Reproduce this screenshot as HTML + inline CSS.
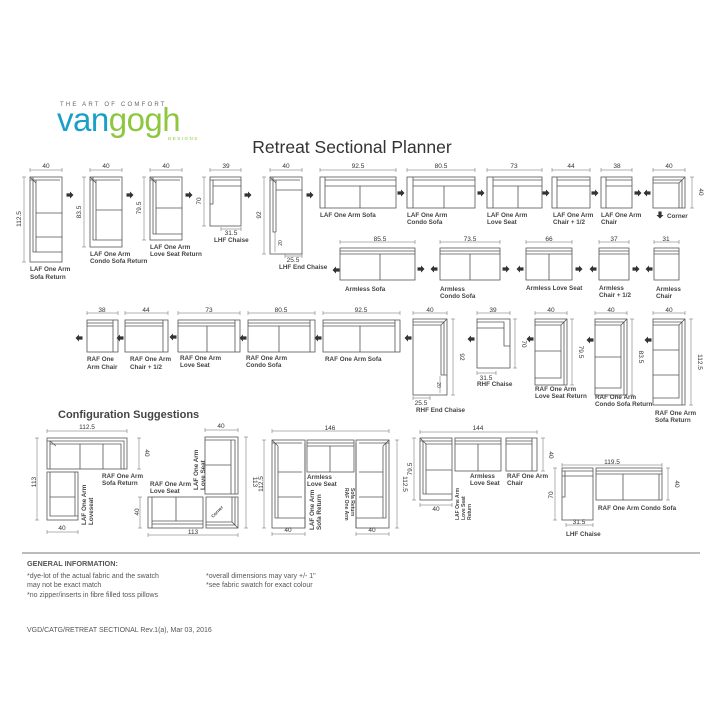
<!DOCTYPE html>
<html><head><meta charset="utf-8"><style>
html,body{margin:0;padding:0;background:#fff;width:720px;height:720px;overflow:hidden}
svg{display:block}
text{font-family:"Liberation Sans",sans-serif}
.l{font-size:6.3px;font-weight:bold;fill:#444}
.d{font-size:6.5px;fill:#333}
.p{fill:none;stroke:#555;stroke-width:.8}
.m{fill:none;stroke:#666;stroke-width:.5}
</style></head><body>
<svg width="720" height="720" viewBox="0 0 720 720" xmlns="http://www.w3.org/2000/svg">
<defs>
<path id="ar" d="M-3.5,-1.6 L0,-1.6 L0,-3.5 L3.5,0 L0,3.5 L0,1.6 L-3.5,1.6Z" fill="#333"/>
</defs>
<!-- logo -->
<text x="60" y="106" font-size="6" letter-spacing="2.2" fill="#666">THE ART OF COMFORT</text>
<text x="57" y="131" font-size="33" fill="#1aa0c8" letter-spacing="-0.5">van<tspan fill="#8dc63f">gogh</tspan></text>
<text x="168" y="140" font-size="4.5" letter-spacing="1.5" fill="#8dc63f">DESIGNS</text>
<text x="352" y="153" font-size="17.5" text-anchor="middle" fill="#333">Retreat Sectional Planner</text>

<!-- ROW 1 -->
<g class="p">
<rect x="30" y="177" width="32" height="85"/><path d="M33,177V252H62M30,180H60M36,180V252M36,213H62M36,237H62M30,177L36,183"/>
<rect x="90" y="177" width="32" height="70"/><path d="M93,177V240H122M90,180H120M96,180V240M96,210H122M90,177L96,183"/>
<rect x="150" y="177" width="32" height="63"/><path d="M153,177V234H182M150,180H180M156,180V234M156,208H182M150,177L156,183"/>
<rect x="210" y="177" width="31" height="49"/><path d="M210,180H241M213,180V204H210M213,186H241"/>
<rect x="270" y="177" width="32" height="77"/><path d="M273,177V232H276M270,180H300M276,180V232M276,190H302M270,177L276,183"/>
<rect x="320" y="177" width="76" height="31"/><path d="M325,177V208M325,180H396M325,186H396M360,186V208"/>
<rect x="407" y="177" width="68" height="31"/><path d="M413,177V208M413,180H475M413,186H475M444,186V208"/>
<rect x="487" y="177" width="55" height="31"/><path d="M493,177V208M493,180H542M493,186H542M518,186V208"/>
<rect x="552" y="177" width="38" height="31"/><path d="M557,177V208M557,180H590M557,186H590"/>
<rect x="601" y="177" width="31" height="31"/><path d="M606,177V208M606,180H632M606,186H632"/>
<rect x="653" y="177" width="32" height="31"/><path d="M653,180H682V208M653,183H679V208M679,183L685,177"/>
</g>
<g class="m">
<path d="M30,170H62M30,168V172M62,168V172"/><path d="M24,177V262M22,177H26M22,262H26"/>
<path d="M90,170H122M90,168V172M122,168V172"/><path d="M84,177V247M82,177H86M82,247H86"/>
<path d="M150,170H182M150,168V172M182,168V172"/><path d="M144,177V240M142,177H146M142,240H146"/>
<path d="M210,170H241M210,168V172M241,168V172"/><path d="M204,177V226M202,177H206M202,226H206"/><path d="M221,229H241M221,227V231M241,227V231"/>
<path d="M270,170H302M270,168V172M302,168V172"/><path d="M264,177V254M262,177H266M262,254H266"/><path d="M285,256H302M285,254V258M302,254V258"/><path d="M275,232V252"/>
<path d="M320,170H396M320,168V172M396,168V172"/>
<path d="M407,170H475M407,168V172M475,168V172"/>
<path d="M487,170H542M487,168V172M542,168V172"/>
<path d="M552,170H590M552,168V172M590,168V172"/>
<path d="M601,170H632M601,168V172M632,168V172"/>
<path d="M653,170H685M653,168V172M685,168V172"/><path d="M692,177V208M690,177H694M690,208H694"/>
</g>
<g class="d" text-anchor="middle">
<text x="46" y="168">40</text><text x="106" y="168">40</text><text x="166" y="168">40</text><text x="226" y="168">39</text><text x="286" y="168">40</text>
<text x="358" y="168">92.5</text><text x="441" y="168">80.5</text><text x="514" y="168">73</text><text x="571" y="168">44</text><text x="617" y="168">38</text><text x="669" y="168">40</text>
<text x="231" y="235">31.5</text><text x="293" y="262">25.5</text>
<text transform="translate(21,219) rotate(-90)">112.5</text><text transform="translate(81,212) rotate(-90)">83.5</text><text transform="translate(141,208) rotate(-90)">79.5</text><text transform="translate(201,201) rotate(-90)">70</text><text transform="translate(261,215) rotate(-90)">92</text><text transform="translate(282,243) rotate(-90)" font-size="5">20</text><text transform="translate(699,192) rotate(90)">40</text>
</g>
<g class="l">
<text x="30" y="271">LAF One Arm</text><text x="30" y="279">Sofa Return</text>
<text x="90" y="256">LAF One Arm</text><text x="90" y="263">Condo Sofa Return</text>
<text x="150" y="249">LAF One Arm</text><text x="150" y="256">Love Seat Return</text>
<text x="214" y="242">LHF Chaise</text>
<text x="279" y="269">LHF End Chaise</text>
<text x="320" y="217">LAF One Arm Sofa</text>
<text x="407" y="217">LAF One Arm</text><text x="407" y="224">Condo Sofa</text>
<text x="487" y="217">LAF One Arm</text><text x="487" y="224">Love Seat</text>
<text x="553" y="217">LAF One Arm</text><text x="553" y="224">Chair + 1/2</text>
<text x="601" y="217">LAF One Arm</text><text x="601" y="224">Chair</text>
<text x="667" y="218">Corner</text>
</g>
<g>
<use href="#ar" x="70" y="195"/><use href="#ar" x="130" y="195"/><use href="#ar" x="189" y="195"/><use href="#ar" x="248" y="195"/><use href="#ar" x="310" y="195"/>
<use href="#ar" x="401" y="193"/><use href="#ar" x="481" y="193"/><use href="#ar" x="546" y="193"/><use href="#ar" x="595" y="193"/><use href="#ar" x="638" y="193"/>
<use href="#ar" transform="translate(647,193) scale(-1,1)"/>
<use href="#ar" transform="translate(660,215) rotate(90)"/>
</g>

<!-- ROW 2 -->
<g class="p">
<rect x="340" y="248" width="75" height="32"/><path d="M340,251H415M340,254H415M380,254V280"/>
<rect x="440" y="248" width="60" height="32"/><path d="M440,251H500M440,254H500M470,254V280"/>
<rect x="526" y="248" width="46" height="32"/><path d="M526,251H572M526,254H572M549,254V280"/>
<rect x="599" y="248" width="30" height="32"/><path d="M599,251H629M599,254H629"/>
<rect x="654" y="248" width="25" height="32"/><path d="M654,251H679M654,254H679"/>
</g>
<g class="m">
<path d="M340,242H415M340,240V244M415,240V244"/><path d="M440,242H500M440,240V244M500,240V244"/><path d="M526,242H572M526,240V244M572,240V244"/><path d="M599,242H629M599,240V244M629,240V244"/><path d="M654,242H679M654,240V244M679,240V244"/>
</g>
<g class="d" text-anchor="middle"><text x="380" y="241">85.5</text><text x="470" y="241">73.5</text><text x="549" y="241">66</text><text x="614" y="241">37</text><text x="666" y="241">31</text></g>
<g class="l">
<text x="345" y="291">Armless Sofa</text>
<text x="440" y="291">Armless</text><text x="440" y="298">Condo Sofa</text>
<text x="526" y="290">Armless Love Seat</text>
<text x="599" y="290">Armless</text><text x="599" y="297">Chair + 1/2</text>
<text x="656" y="291">Armless</text><text x="656" y="298">Chair</text>
</g>
<g>
<use href="#ar" transform="translate(336,270) scale(-1,1)"/><use href="#ar" x="421" y="269"/><use href="#ar" transform="translate(434,269) scale(-1,1)"/>
<use href="#ar" x="506" y="269"/><use href="#ar" transform="translate(520,269) scale(-1,1)"/><use href="#ar" x="579" y="269"/><use href="#ar" transform="translate(593,269) scale(-1,1)"/><use href="#ar" x="636" y="269"/><use href="#ar" transform="translate(649,269) scale(-1,1)"/>
</g>

<!-- ROW 3 -->
<g class="p">
<rect x="87" y="320" width="31" height="32"/><path d="M87,323H113M87,326H113M113,320V352"/>
<rect x="125" y="320" width="43" height="32"/><path d="M125,323H163M125,326H163M163,320V352"/>
<rect x="178" y="320" width="62" height="32"/><path d="M178,323H235M178,326H235M235,320V352M207,326V352"/>
<rect x="248" y="320" width="67" height="32"/><path d="M248,323H310M248,326H310M310,320V352M279,326V352"/>
<rect x="323" y="320" width="77" height="32"/><path d="M323,323H395M323,326H395M395,320V352M360,326V352"/>
<rect x="413" y="319" width="34" height="76"/><path d="M413,322H444V375M413,325H441V375H447M441,325L447,319"/>
<rect x="477" y="319" width="33" height="49"/><path d="M477,322H504V346H510M477,328H504"/>
<rect x="535" y="319" width="32" height="66"/><path d="M535,322H564V385M535,325H561V378H535M535,351H561M561,325L567,319"/>
<rect x="595" y="319" width="32" height="76"/><path d="M595,322H624V395M595,325H621V388H595M595,357H621M621,325L627,319"/>
<rect x="653" y="319" width="32" height="86"/><path d="M653,322H682V405M653,325H679V398H653M653,350H679M653,375H679M679,325L685,319"/>
</g>
<g class="m">
<path d="M87,313H118M87,311V315M118,311V315"/><path d="M125,313H168M125,311V315M168,311V315"/><path d="M178,313H240M178,311V315M240,311V315"/><path d="M248,313H315M248,311V315M315,311V315"/><path d="M323,313H400M323,311V315M400,311V315"/>
<path d="M413,313H447M413,311V315M447,311V315"/><path d="M453,319V395M451,319H455M451,395H455"/><path d="M413,398H430M413,396V400M430,396V400"/><path d="M440,376V393"/>
<path d="M477,313H510M477,311V315M510,311V315"/><path d="M515,319V368M513,319H517M513,368H517"/><path d="M477,373H496M477,371V375M496,371V375"/>
<path d="M535,313H567M535,311V315M567,311V315"/><path d="M572,319V385M570,319H574M570,385H574"/>
<path d="M595,313H627M595,311V315M627,311V315"/><path d="M632,319V395M630,319H634M630,395H634"/>
<path d="M653,313H685M653,311V315M685,311V315"/><path d="M691,319V405M689,319H693M689,405H693"/>
</g>
<g class="d" text-anchor="middle">
<text x="102" y="312">38</text><text x="146" y="312">44</text><text x="209" y="312">73</text><text x="281" y="312">80.5</text><text x="361" y="312">92.5</text><text x="430" y="312">40</text><text x="493" y="312">39</text><text x="551" y="312">40</text><text x="611" y="312">40</text><text x="669" y="312">40</text>
<text x="421" y="405">25.5</text><text x="486" y="380">31.5</text>
<text transform="translate(460,357) rotate(90)">92</text><text transform="translate(437,385) rotate(90)" font-size="5">20</text><text transform="translate(522,344) rotate(90)">70</text><text transform="translate(579,352) rotate(90)">79.5</text><text transform="translate(639,357) rotate(90)">83.5</text><text transform="translate(698,362) rotate(90)">112.5</text>
</g>
<g class="l">
<text x="87" y="361">RAF One</text><text x="87" y="369">Arm Chair</text>
<text x="130" y="361">RAF One Arm</text><text x="130" y="369">Chair + 1/2</text>
<text x="180" y="360">RAF One Arm</text><text x="180" y="367">Love Seat</text>
<text x="246" y="360">RAF One Arm</text><text x="246" y="367">Condo Sofa</text>
<text x="325" y="361">RAF One Arm Sofa</text>
<text x="416" y="412">RHF End Chaise</text>
<text x="477" y="386">RHF Chaise</text>
<text x="535" y="391">RAF One Arm</text><text x="535" y="398">Love Seat Return</text>
<text x="595" y="399">RAF One Arm</text><text x="595" y="406">Condo Sofa Return</text>
<text x="655" y="415">RAF One Arm</text><text x="655" y="422">Sofa Return</text>
</g>
<g>
<use href="#ar" transform="translate(79,338) scale(-1,1)"/><use href="#ar" transform="translate(120,338) scale(-1,1)"/><use href="#ar" transform="translate(173,337) scale(-1,1)"/><use href="#ar" transform="translate(243,338) scale(-1,1)"/><use href="#ar" transform="translate(318,338) scale(-1,1)"/><use href="#ar" transform="translate(408,338) scale(-1,1)"/><use href="#ar" transform="translate(471,339) scale(-1,1)"/><use href="#ar" transform="translate(530,339) scale(-1,1)"/><use href="#ar" transform="translate(590,340) scale(-1,1)"/><use href="#ar" transform="translate(648,340) scale(-1,1)"/>
</g>

<text x="58" y="418" font-size="11" font-weight="bold" fill="#444">Configuration Suggestions</text>

<!-- CONFIG 1 -->
<g class="p">
<rect x="47" y="438" width="80" height="31"/><path d="M47,441H124V469M50,441V469M50,444H121V469M80,444V469M103,444V469M50,441L56,446"/>
<rect x="47" y="472" width="31" height="48"/><path d="M50,472V516H78M75,472V516M50,497H75"/>
</g>
<g class="m"><path d="M47,431H127M47,429V433M127,429V433"/><path d="M139,438V469M137,438H141M137,469H141"/><path d="M37,438V520M35,438H39M35,520H39"/><path d="M47,532H78M47,530V534M78,530V534"/></g>
<g class="d" text-anchor="middle"><text x="87" y="429">112.5</text><text x="62" y="530">40</text><text transform="translate(145,453) rotate(90)">40</text><text transform="translate(36,482) rotate(-90)">113</text></g>
<g class="l"><text x="102" y="478">RAF One Arm</text><text x="102" y="485">Sofa Return</text>
<text transform="translate(86,525) rotate(-90)">LAF One Arm</text><text transform="translate(93,525) rotate(-90)">Loveseat</text></g>

<!-- CONFIG 2 -->
<g class="p">
<rect x="205" y="437" width="33" height="57"/><path d="M205,440H235V494M231,440V494M205,465H231"/>
<rect x="148" y="497" width="55" height="31"/><path d="M152,497V528M152,524H203M152,521H203M176,497V521"/>
<rect x="206" y="497" width="32" height="31"/><path d="M206,525H235V497M206,522H232V497M232,522L238,528"/>
</g>
<g class="m"><path d="M205,430H238M205,428V432M238,428V432"/><path d="M246,437V528M244,437H248M244,528H248"/><path d="M148,535H238M148,533V537M238,533V537"/><path d="M140,497V528M138,497H142M138,528H142"/></g>
<g class="d" text-anchor="middle"><text x="221" y="428">40</text><text x="193" y="534">113</text><text transform="translate(253,482) rotate(90)">113</text><text transform="translate(139,512) rotate(-90)">40</text></g>
<g class="l"><text x="150" y="486">RAF One Arm</text><text x="150" y="493">Love Seat</text>
<text transform="translate(198,490) rotate(-90)">LAF One Arm</text><text transform="translate(205,490) rotate(-90)" >Love Seat</text>
<text transform="translate(213,518) rotate(-45)" font-size="4.5">Corner</text></g>

<!-- CONFIG 3 -->
<g class="p">
<rect x="272" y="440" width="33" height="88"/><path d="M275,443V518H305M278,446V518M272,443H302M305,443V528M278,472H302M278,497H302M272,440L278,446"/>
<rect x="307" y="440" width="47" height="32"/><path d="M307,443H354M307,446H354M330,446V472"/>
<rect x="356" y="440" width="33" height="88"/><path d="M386,443V518H356M383,446V518M389,443H359M356,443V528M359,472H383M359,497H383M389,440L383,446"/>
</g>
<g class="m"><path d="M272,431H389M272,429V433M389,429V433"/><path d="M264,440V528M262,440H266M262,528H266"/><path d="M397,440V528M395,440H399M395,528H399"/><path d="M272,534H305M272,532V536M305,532V536"/><path d="M356,534H389M356,532V536M389,532V536"/></g>
<g class="d" text-anchor="middle"><text x="330" y="430">146</text><text x="288" y="532">40</text><text x="372" y="532">40</text><text transform="translate(263,484) rotate(-90)">112.5</text><text transform="translate(403,484) rotate(90)">112.5</text></g>
<g class="l"><text x="307" y="479">Armless</text><text x="307" y="486">Love Seat</text>
<text transform="translate(314,530) rotate(-90)">LAF One Arm</text><text transform="translate(321,530) rotate(-90)">Sofa Return</text>
<text transform="translate(345,488) rotate(90)" font-size="5">RAF One Arm</text><text transform="translate(351,488) rotate(90)" font-size="5">Sofa Return</text></g>

<!-- CONFIG 4 -->
<g class="p">
<rect x="420" y="438" width="32" height="62"/><path d="M423,441V494H452M426,444V494M420,441H452M426,444H452M426,470H452M420,438L426,444"/>
<rect x="455" y="438" width="46" height="33"/><path d="M455,441H501M455,444H501M478,444V471"/>
<rect x="506" y="438" width="31" height="33"/><path d="M506,441H532M506,444H532M532,438V471"/>
</g>
<g class="m"><path d="M420,432H537M420,430V434M537,430V434"/><path d="M414,438V500M412,438H416M412,500H416"/><path d="M543,438V471M541,438H545M541,471H545"/><path d="M420,505H452M420,503V507M452,503V507"/></g>
<g class="d" text-anchor="middle"><text x="478" y="430">144</text><text x="436" y="511">40</text><text transform="translate(412,469) rotate(-90)">79.5</text><text transform="translate(549,455) rotate(90)">40</text></g>
<g class="l"><text x="470" y="478">Armless</text><text x="470" y="485">Love Seat</text><text x="507" y="478">RAF One Arm</text><text x="507" y="485">Chair</text>
<text transform="translate(459,520) rotate(-90)" font-size="5">LAF One Arm</text><text transform="translate(465,520) rotate(-90)" font-size="5">Love Seat</text><text transform="translate(471,520) rotate(-90)" font-size="5">Return</text></g>

<!-- CONFIG 5 -->
<g class="p">
<rect x="562" y="468" width="31" height="52"/><path d="M562,471H593M562,476H593M565,471V497H562"/>
<rect x="596" y="468" width="66" height="32"/><path d="M596,471H662M596,474H662M659,474V500M623,474V500"/>
</g>
<g class="m"><path d="M562,465H662M562,463V467M662,463V467"/><path d="M555,468V520M553,468H557M553,520H557"/><path d="M668,468V500M666,468H670M666,500H670"/><path d="M566,525H593M566,523V527M593,523V527"/></g>
<g class="d" text-anchor="middle"><text x="612" y="464">119.5</text><text x="579" y="524">31.5</text><text transform="translate(553,495) rotate(-90)">70</text><text transform="translate(675,484) rotate(90)">40</text></g>
<g class="l"><text x="598" y="510">RAF One Arm Condo Sofa</text><text x="566" y="536">LHF Chaise</text></g>

<!-- footer -->
<line x1="22" y1="553" x2="700" y2="553" stroke="#777" stroke-width="1"/>
<g font-size="7" fill="#555">
<text x="27" y="566" font-weight="bold" font-size="7.3">GENERAL INFORMATION:</text>
<text x="27" y="578">*dye-lot of the actual fabric and the swatch</text>
<text x="27" y="587">  may not be exact match</text>
<text x="27" y="597">*no zipper/inserts in fibre filled toss pillows</text>
<text x="206" y="578">*overall dimensions may vary +/- 1"</text>
<text x="206" y="587">*see fabric swatch for exact colour</text>
<text x="27" y="632">VGD/CATG/RETREAT SECTIONAL Rev.1(a), Mar 03, 2016</text>
</g>
</svg>
</body></html>
